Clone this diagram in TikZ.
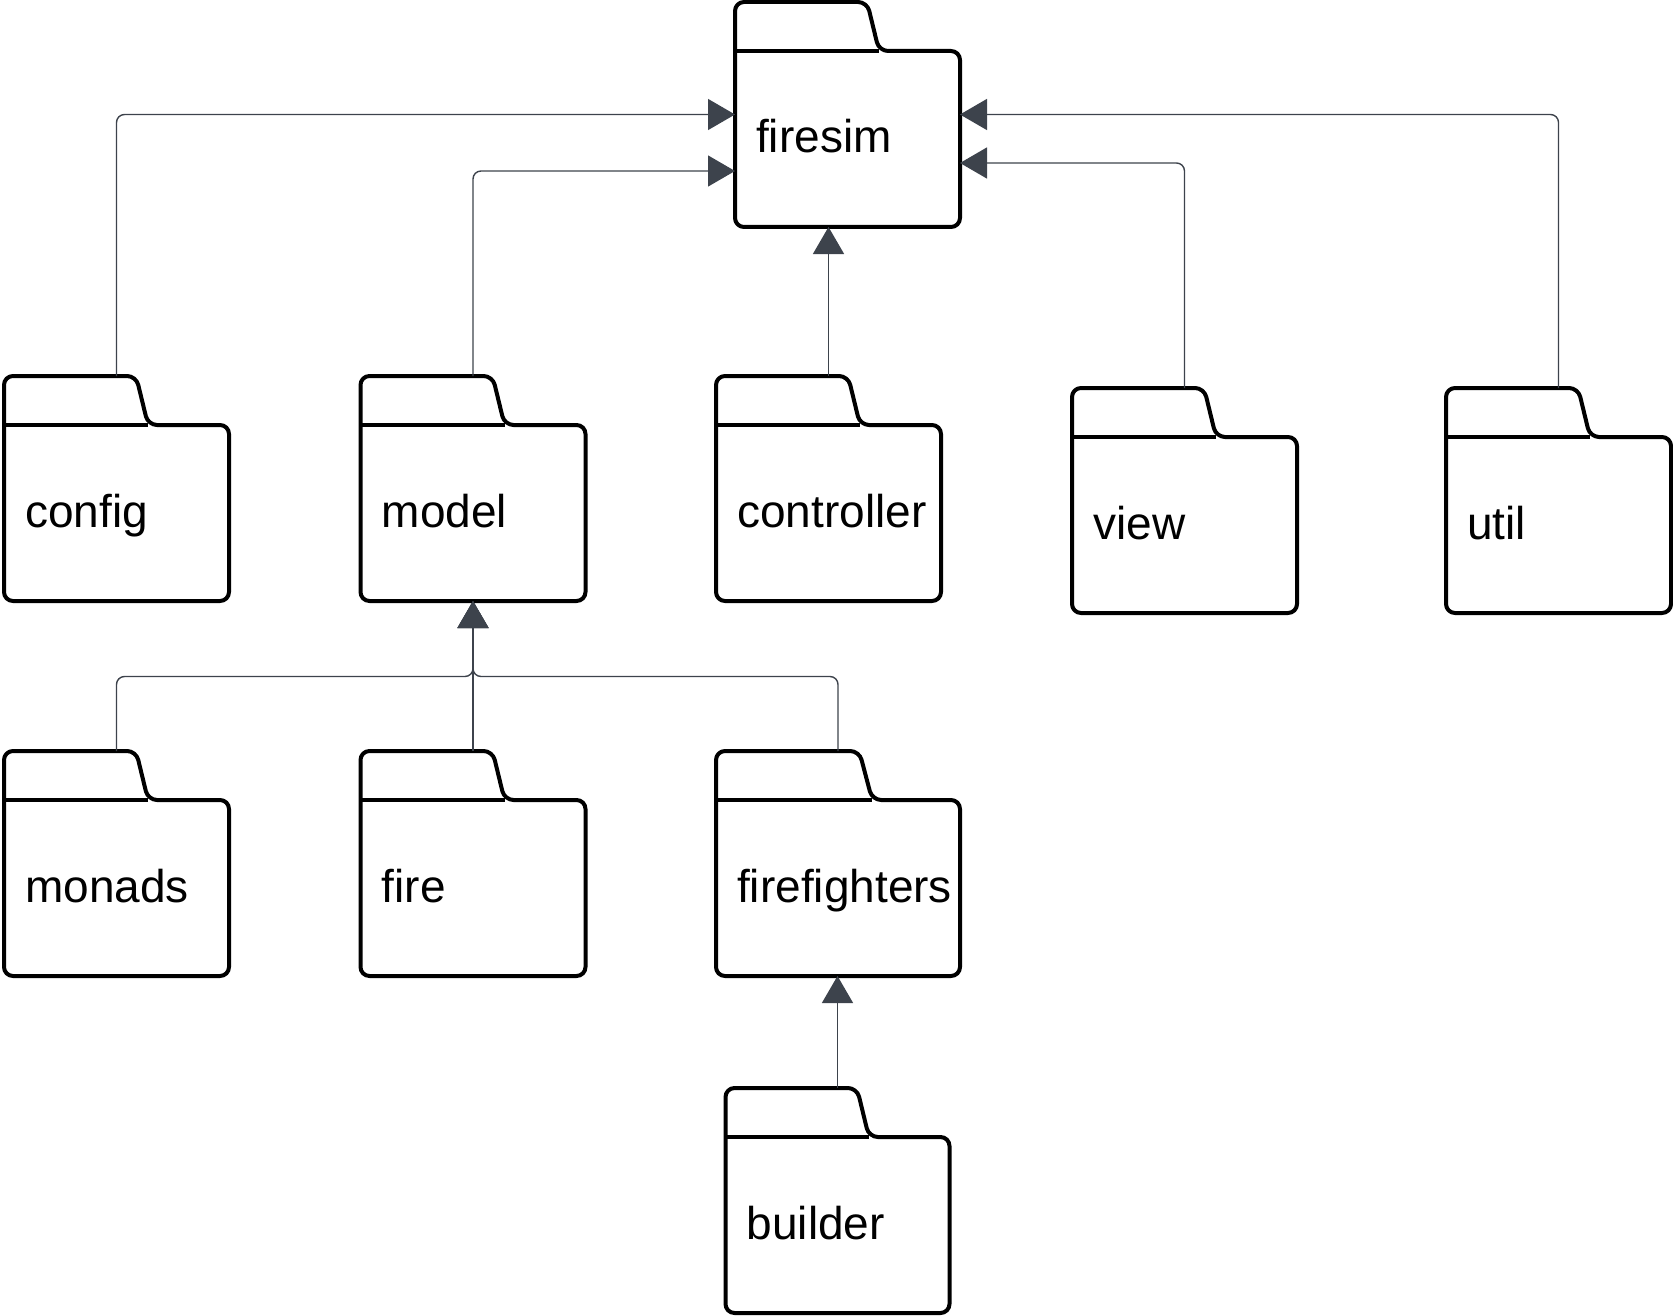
\documentclass[tikz,border=0pt]{standalone}
\usepackage{fontspec}
\setmainfont{Liberation Sans}
\usetikzlibrary{arrows.meta,calc}
\definecolor{edgec}{HTML}{3D434C}
\tikzset{
  folder/.style={draw=black, line width=4pt, rounded corners=9pt, line join=round},
  tabline/.style={draw=black, line width=4pt},
  lbl/.style={font=\fontsize{46}{52}\selectfont, inner sep=0pt, anchor=base west},
  edge/.style={draw=edgec, line width=1.4pt, rounded corners=8pt, -{Triangle[width=31pt,length=27pt]}},
}
\newcommand\pkgfolder[5]{%
  \node[draw=none, inner sep=0pt, outer sep=0pt, minimum width=#4pt, minimum height=225pt, anchor=north west] (#1) at (#2,#3) {};
  \pgfmathsetmacro\tabA{0.587*#4}\pgfmathsetmacro\tabB{0.64*#4}
  \draw[folder] ($(#1.north west)+(0,49)$) -- (#1.north west) -- ($(#1.north west)+(\tabA,0)$) -- ($(#1.north west)+(\tabB,49)$) -- ($(#1.north east)+(0,49)$) -- (#1.south east) -- (#1.south west) -- cycle;
  \draw[tabline] ($(#1.north west)+(0,49)$) -- ($(#1.north west)+(\tabB,49)$);
  \node[lbl] (#1-label) at ($(#1.west)+(21,38.5)$) {#5};
}
\begin{document}
\begin{tikzpicture}[x=1pt, y=-1pt]
\useasboundingbox (0,0) rectangle (1673,1316);
\pkgfolder{firesim}{735}{2}{225}{firesim}
\pkgfolder{config}{4}{376}{225}{config}
\pkgfolder{model}{360.5}{376}{225}{model}
\pkgfolder{controller}{716}{376}{225}{controller}
\pkgfolder{view}{1072}{388}{225}{view}
\pkgfolder{util}{1446}{388}{225}{util}
\pkgfolder{monads}{4}{751}{225}{monads}
\pkgfolder{fire}{360.5}{751}{225}{fire}
\pkgfolder{firefighters}{716}{751}{244}{firefighters}
\pkgfolder{builder}{725.5}{1088}{224}{builder}

\draw[edge] (config.north) |- (firesim.west);
\draw[edge] (model.north) |- ($(firesim.west)+(0,56.5)$);
\draw[edge] (controller.north) -- (controller.north |- firesim.south);
\draw[edge] (view.north) |- ($(firesim.east)+(0,48.5)$);
\draw[edge] (util.north) |- (firesim.east);
\coordinate (mj) at ($(model.south)+(0,75.5)$);
\draw[edge] (monads.north) |- (mj) -- (model.south);
\draw[edge] (fire.north) -- (model.south);
\draw[edge] (firefighters.north) |- (mj) -- (model.south);
\draw[edge] (builder.north) -- (builder.north |- firefighters.south);
\end{tikzpicture}
\end{document}
